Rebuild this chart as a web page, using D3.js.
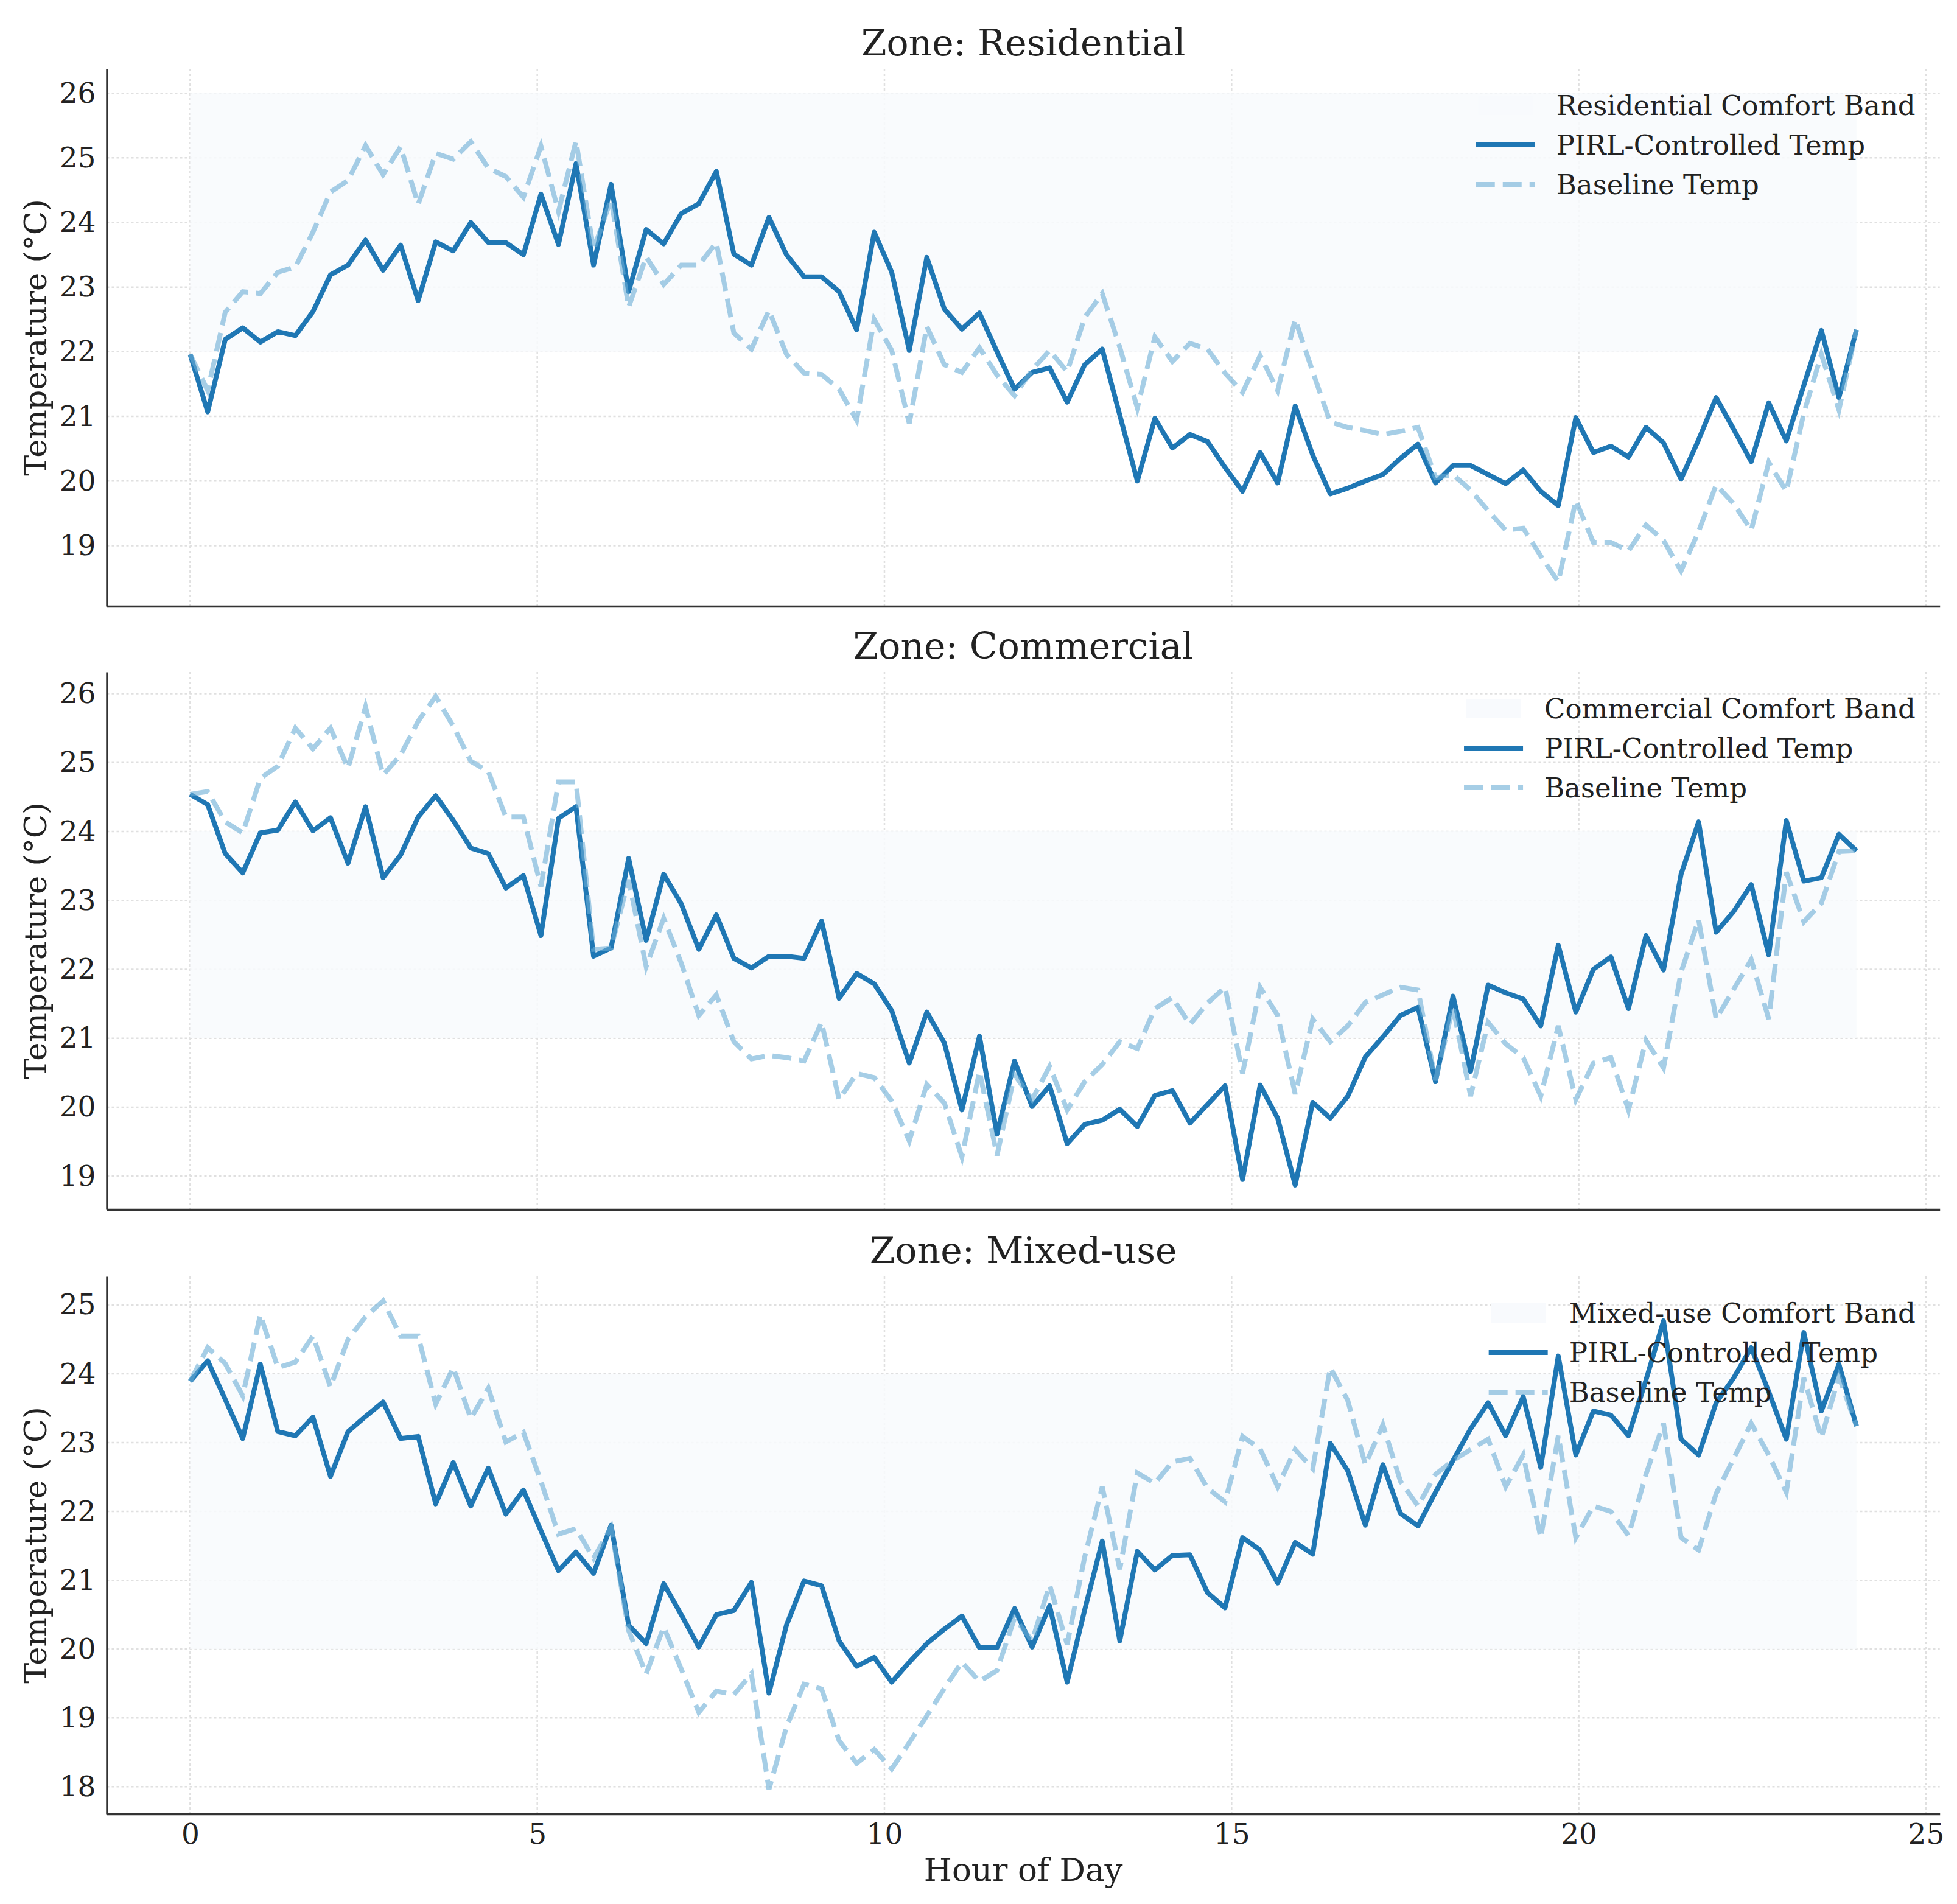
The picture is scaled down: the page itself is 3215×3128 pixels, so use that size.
<!DOCTYPE html>
<html>
<head>
<meta charset="utf-8">
<script src="https://cdn.jsdelivr.net/npm/d3@7"></script>
<style>
  body { margin: 0; padding: 0; background: #fff; }
  svg text { font-family: 'DejaVu Serif', serif; fill: #222; }
</style>
</head>
<body>
<svg id="chart"></svg>
<script>
// 96 samples over the day, 0 .. 24 h
const sampleCount = 96
const hours = d3.range(sampleCount).map(i => i * 24 / (sampleCount - 1))

const zones = ['Residential', 'Commercial', 'Mixed-use']
const comfortLow = [22, 21, 20]
const comfortHigh = [26, 24, 24]
const xTicks = [0, 5, 10, 15, 20, 25]

const pirlResidential = [
  21.96, 21.07, 22.19, 22.37, 22.15, 22.31, 22.25, 22.62, 23.19, 23.34,
  23.73, 23.26, 23.65, 22.79, 23.70, 23.56, 24.00, 23.69, 23.69, 23.50,
  24.44, 23.66, 24.91, 23.34, 24.59, 22.93, 23.89, 23.67, 24.14, 24.29,
  24.79, 23.51, 23.34, 24.08, 23.50, 23.16, 23.16, 22.93, 22.34, 23.85,
  23.23, 22.02, 23.46, 22.66, 22.35, 22.60, 22.00, 21.42, 21.68, 21.75,
  21.22, 21.80, 22.04, 21.02, 20.00, 20.97, 20.51, 20.72, 20.61, 20.21,
  19.84, 20.44, 19.97, 21.16, 20.40, 19.80, 19.89, 20.00, 20.10, 20.35,
  20.57, 19.97, 20.24, 20.24, 20.10, 19.96, 20.17, 19.84, 19.62, 20.98,
  20.44, 20.54, 20.37, 20.83, 20.59, 20.03, 20.64, 21.29, 20.80, 20.30,
  21.21, 20.62, 21.48, 22.33, 21.29, 22.34
]
const baselineResidential = [
  21.96, 21.40, 22.61, 22.93, 22.90, 23.23, 23.31, 23.85, 24.47, 24.65,
  25.19, 24.74, 25.17, 24.28, 25.07, 24.98, 25.25, 24.84, 24.71, 24.39,
  25.18, 24.17, 25.26, 23.58, 24.36, 22.69, 23.47, 23.04, 23.34, 23.34,
  23.69, 22.29, 22.04, 22.64, 21.96, 21.67, 21.65, 21.42, 20.94, 22.50,
  22.02, 20.89, 22.39, 21.80, 21.68, 22.06, 21.64, 21.32, 21.72, 22.02,
  21.69, 22.53, 22.90, 22.07, 21.13, 22.23, 21.85, 22.13, 22.04, 21.67,
  21.37, 21.94, 21.40, 22.50, 21.69, 20.91, 20.83, 20.78, 20.72, 20.77,
  20.83, 20.05, 20.10, 19.86, 19.54, 19.24, 19.27, 18.84, 18.44, 19.70,
  19.05, 19.05, 18.92, 19.32, 19.08, 18.61, 19.22, 19.94, 19.65, 19.24,
  20.29, 19.84, 21.05, 21.96, 21.10, 22.34
]
const pirlCommercial = [
  24.54, 24.39, 23.68, 23.40, 23.98, 24.02, 24.43, 24.01, 24.20, 23.54,
  24.36, 23.33, 23.66, 24.21, 24.52, 24.16, 23.76, 23.68, 23.18, 23.36,
  22.49, 24.19, 24.36, 22.19, 22.31, 23.61, 22.42, 23.38, 22.95, 22.29,
  22.79, 22.16, 22.02, 22.19, 22.19, 22.16, 22.70, 21.58, 21.94, 21.79,
  21.40, 20.64, 21.38, 20.93, 19.96, 21.03, 19.61, 20.67, 20.01, 20.31,
  19.47, 19.75, 19.81, 19.97, 19.72, 20.17, 20.24, 19.77, 20.04, 20.31,
  18.95, 20.32, 19.84, 18.87, 20.07, 19.84, 20.16, 20.73, 21.02, 21.33,
  21.45, 20.37, 21.61, 20.52, 21.77, 21.66, 21.57, 21.18, 22.35, 21.38,
  22.00, 22.18, 21.43, 22.49, 21.99, 23.38, 24.14, 22.54, 22.84, 23.23,
  22.21, 24.16, 23.28, 23.33, 23.96, 23.72
]
const baselineCommercial = [
  24.54, 24.58, 24.14, 23.98, 24.77, 24.95, 25.50, 25.20, 25.50, 24.92,
  25.81, 24.82, 25.11, 25.60, 25.96, 25.53, 25.02, 24.87, 24.21, 24.21,
  23.20, 24.72, 24.72, 22.29, 22.31, 23.30, 22.04, 22.74, 22.09, 21.33,
  21.63, 20.95, 20.70, 20.75, 20.72, 20.67, 21.23, 20.11, 20.49, 20.43,
  20.09, 19.51, 20.33, 20.06, 19.28, 20.52, 19.30, 20.47, 20.11, 20.59,
  19.96, 20.37, 20.62, 20.95, 20.85, 21.43, 21.59, 21.20, 21.51, 21.74,
  20.49, 21.74, 21.33, 20.19, 21.28, 20.95, 21.18, 21.52, 21.63, 21.74,
  21.70, 20.39, 21.45, 20.16, 21.23, 20.92, 20.72, 20.16, 21.18, 20.11,
  20.64, 20.72, 19.96, 20.97, 20.57, 21.96, 22.72, 21.28, 21.71, 22.14,
  21.28, 23.41, 22.69, 22.96, 23.71, 23.72
]
const pirlMixed = [
  23.89, 24.19, 23.63, 23.06, 24.14, 23.16, 23.10, 23.37, 22.51, 23.16,
  23.38, 23.59, 23.06, 23.09, 22.11, 22.71, 22.08, 22.63, 21.96, 22.31,
  21.72, 21.14, 21.41, 21.10, 21.80, 20.35, 20.08, 20.95, 20.50, 20.03,
  20.50, 20.56, 20.97, 19.36, 20.35, 20.99, 20.92, 20.12, 19.75, 19.88,
  19.52, 19.81, 20.08, 20.29, 20.48, 20.02, 20.02, 20.59, 20.03, 20.63,
  19.52, 20.57, 21.57, 20.12, 21.42, 21.15, 21.36, 21.37, 20.82, 20.60,
  21.62, 21.44, 20.96, 21.55, 21.38, 22.99, 22.59, 21.80, 22.68, 21.97,
  21.79, 22.28, 22.74, 23.20, 23.58, 23.10, 23.67, 22.64, 24.26, 22.82,
  23.46, 23.40, 23.10, 23.91, 24.77, 23.05, 22.82, 23.58, 23.94, 24.38,
  23.74, 23.05, 24.60, 23.46, 24.14, 23.24
]
const baselineMixed = [
  23.89, 24.38, 24.15, 23.68, 24.86, 24.09, 24.17, 24.55, 23.81, 24.50,
  24.83, 25.06, 24.55, 24.55, 23.56, 24.09, 23.35, 23.79, 23.01, 23.15,
  22.44, 21.67, 21.75, 21.32, 21.77, 20.27, 19.64, 20.32, 19.71, 19.08,
  19.39, 19.34, 19.64, 17.96, 18.87, 19.49, 19.42, 18.67, 18.34, 18.54,
  18.26, 18.64, 19.03, 19.43, 19.81, 19.53, 19.69, 20.45, 20.12, 20.93,
  20.07, 21.34, 22.36, 21.16, 22.56, 22.41, 22.72, 22.77, 22.34, 22.14,
  23.09, 22.91, 22.36, 22.90, 22.62, 24.09, 23.61, 22.68, 23.26, 22.44,
  22.08, 22.54, 22.74, 22.90, 23.05, 22.36, 22.82, 21.62, 23.10, 21.62,
  22.08, 22.00, 21.65, 22.54, 23.28, 21.62, 21.44, 22.26, 22.77, 23.28,
  22.82, 22.28, 23.94, 23.07, 23.96, 23.24
]

const pirlSeries = [pirlResidential, pirlCommercial, pirlMixed]
const baselineSeries = [baselineResidential, baselineCommercial, baselineMixed]

const colors = { pirl: '#1f77b4', base: '#6baed6', band: '#f8fafd', grid: '#e0e0e0', spine: '#333' }

const W = 3215, H = 3128
const left = 175.5, right = 3186.7
const panelTop = [113, 1104, 2097]
const panelH = 883

const svg = d3.select('#chart').attr('width', W).attr('height', H)
svg.append('rect').attr('width', W).attr('height', H).attr('fill', '#fff')

// matplotlib-like 5% margins on x
const x = d3.scaleLinear().domain([-1.2, 25.2]).range([left, right])

zones.forEach((zone, k) => {
  const top = panelTop[k]
  const bottom = top + panelH
  const pirl = pirlSeries[k]
  const base = baselineSeries[k]

  const [lo, hi] = d3.extent(pirl.concat(base, [comfortLow[k], comfortHigh[k]]))
  const pad = (hi - lo) * 0.05
  const y = d3.scaleLinear().domain([lo - pad, hi + pad]).range([bottom, top])

  const g = svg.append('g').attr('class', 'panel')

  // grid
  g.append('g').selectAll('line')
    .data(y.ticks())
    .enter().append('line')
    .attr('x1', left).attr('x2', right)
    .attr('y1', d => y(d)).attr('y2', d => y(d))
    .attr('stroke', colors.grid)
    .attr('stroke-width', 2.5)
    .attr('stroke-dasharray', '4,4')
  g.append('g').selectAll('line')
    .data(xTicks)
    .enter().append('line')
    .attr('x1', d => x(d)).attr('x2', d => x(d))
    .attr('y1', top).attr('y2', bottom)
    .attr('stroke', colors.grid)
    .attr('stroke-width', 2.5)
    .attr('stroke-dasharray', '4,4')

  // comfort band
  g.append('rect')
    .attr('x', x(hours[0]))
    .attr('width', x(hours[hours.length - 1]) - x(hours[0]))
    .attr('y', y(comfortHigh[k]))
    .attr('height', y(comfortLow[k]) - y(comfortHigh[k]))
    .attr('fill', colors.band)
    .attr('fill-opacity', 0.85)

  const line = d3.line()
    .x((d, i) => x(hours[i]))
    .y(d => y(d))

  g.append('path')
    .datum(pirl)
    .attr('d', line)
    .attr('fill', 'none')
    .attr('stroke', colors.pirl)
    .attr('stroke-width', 8)
    .attr('stroke-linejoin', 'round')

  g.append('path')
    .datum(base)
    .attr('d', line)
    .attr('fill', 'none')
    .attr('stroke', colors.base)
    .attr('stroke-opacity', 0.6)
    .attr('stroke-width', 8)
    .attr('stroke-dasharray', '31,13')

  // axes
  const yAxis = g.append('g')
    .attr('transform', `translate(${left},0)`)
    .call(d3.axisLeft(y).tickSize(0).tickSizeOuter(0).tickPadding(18).tickFormat(d3.format('d')))
  yAxis.select('.domain').attr('stroke', colors.spine).attr('stroke-width', 3.5)
  yAxis.selectAll('text')
    .attr('font-size', 47)
    .attr('font-family', "'DejaVu Serif', serif")
    .attr('fill', '#222')

  const isLast = k === zones.length - 1
  const xAxis = g.append('g')
    .attr('transform', `translate(0,${bottom})`)
    .call(d3.axisBottom(x).tickValues(xTicks).tickSize(0).tickSizeOuter(0).tickPadding(16)
      .tickFormat(isLast ? d3.format('d') : () => ''))
  xAxis.select('.domain').attr('stroke', colors.spine).attr('stroke-width', 3.5)
  xAxis.selectAll('text')
    .attr('font-size', 47)
    .attr('font-family', "'DejaVu Serif', serif")
    .attr('fill', '#222')

  // title + y label
  g.append('text')
    .attr('x', (left + right) / 2)
    .attr('y', top - 22)
    .attr('text-anchor', 'middle')
    .attr('font-size', 60)
    .text(`Zone: ${zone}`)

  g.append('text')
    .attr('transform', `translate(58,${(top + bottom) / 2}) rotate(-90)`)
    .attr('text-anchor', 'middle')
    .attr('dy', '0.35em')
    .attr('font-size', 51)
    .text('Temperature (°C)')

  // legend, upper right
  const labels = [`${zone} Comfort Band`, 'PIRL-Controlled Temp', 'Baseline Temp']
  const leg = g.append('g')
  const texts = leg.selectAll('text')
    .data(labels)
    .enter().append('text')
    .attr('font-size', 45)
    .attr('dy', '0.35em')
    .attr('y', (d, i) => top + 60 + i * 65)
    .text(d => d)
  const maxW = d3.max(texts.nodes(), n => n.getComputedTextLength())
  const tx = right - 40 - maxW
  texts.attr('x', tx)

  leg.append('rect')
    .attr('x', tx - 128).attr('width', 90)
    .attr('y', top + 60 - 16).attr('height', 32)
    .attr('fill', colors.band)
  leg.append('line')
    .attr('x1', tx - 132).attr('x2', tx - 35)
    .attr('y1', top + 125).attr('y2', top + 125)
    .attr('stroke', colors.pirl).attr('stroke-width', 8)
  leg.append('line')
    .attr('x1', tx - 132).attr('x2', tx - 35)
    .attr('y1', top + 190).attr('y2', top + 190)
    .attr('stroke', colors.base).attr('stroke-opacity', 0.6)
    .attr('stroke-width', 8).attr('stroke-dasharray', '31,13')
})

svg.append('text')
  .attr('x', (left + right) / 2)
  .attr('y', 3090)
  .attr('text-anchor', 'middle')
  .attr('font-size', 53)
  .text('Hour of Day')
</script>
</body>
</html>
